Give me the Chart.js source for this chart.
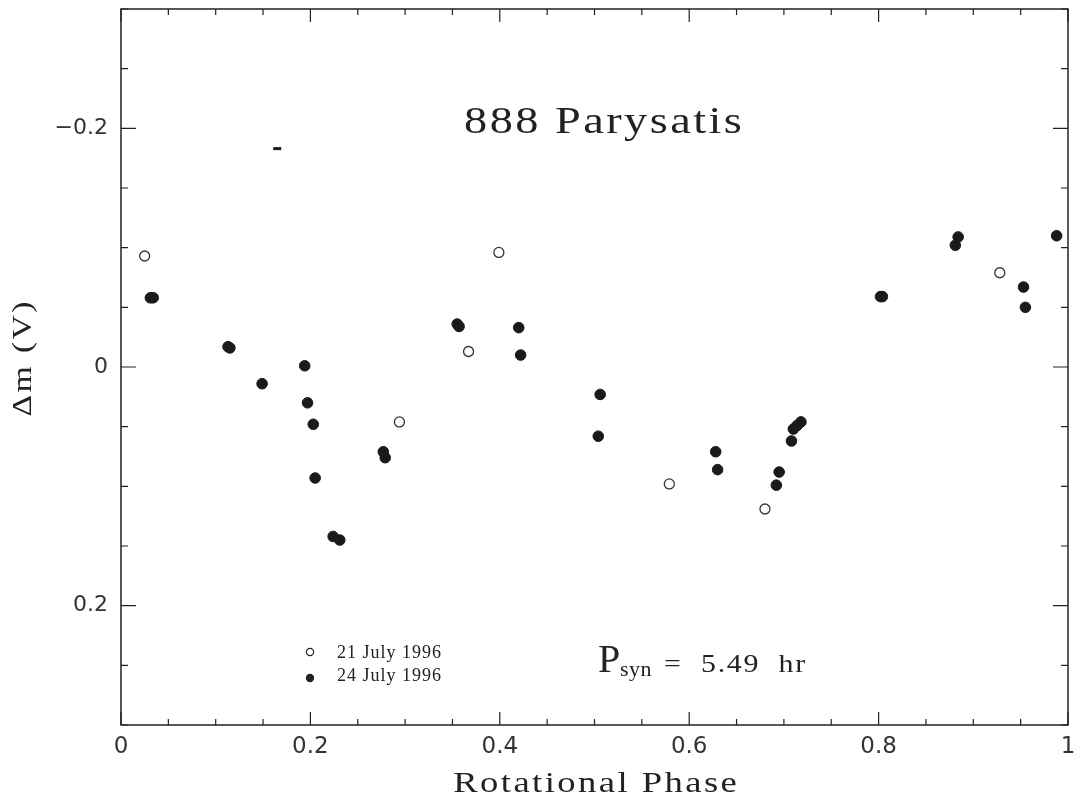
<!DOCTYPE html>
<html>
<head>
<meta charset="utf-8">
<title>888 Parysatis</title>
<script src="https://cdn.jsdelivr.net/npm/chart.js@4/dist/chart.umd.min.js"></script>
<style>
  html, body { margin: 0; padding: 0; background: #fff; }
  #lightcurve { display: block; }
</style>
</head>
<body>
<canvas id="lightcurve" width="1075" height="800"></canvas>
<script>
// values
const sessionLabels = ['21 July 1996', '24 July 1996'];

const phase21 = [0.025, 0.294, 0.367, 0.399, 0.579, 0.680, 0.928];
const dmag21  = [-0.093, 0.046, -0.013, -0.096, 0.098, 0.119, -0.079];

const phase24 = [0.031, 0.034, 0.113, 0.115, 0.149, 0.194, 0.197, 0.203, 0.205, 0.224,
                 0.231, 0.277, 0.279, 0.355, 0.357, 0.420, 0.422, 0.504, 0.506, 0.628,
                 0.630, 0.692, 0.695, 0.708, 0.710, 0.714, 0.718, 0.802, 0.804, 0.881,
                 0.884, 0.953, 0.955, 0.988];
const dmag24  = [-0.058, -0.058, -0.017, -0.016, 0.014, -0.001, 0.030, 0.048, 0.093, 0.142,
                 0.145, 0.071, 0.076, -0.036, -0.034, -0.033, -0.010, 0.058, 0.023, 0.071,
                 0.086, 0.099, 0.088, 0.062, 0.052, 0.049, 0.046, -0.059, -0.059, -0.102,
                 -0.109, -0.067, -0.050, -0.110];

// small stray mark printed on the original figure
const phaseStray = [0.165];
const dmagStray  = [-0.183];

const xTicks = [0, 0.2, 0.4, 0.6, 0.8, 1];
const yTicks = [-0.2, 0, 0.2];
const minorStep = 0.05;

const INK = '#222';
const SERIF = '"Liberation Serif", "DejaVu Serif", serif';

function toPoints(xs, ys) {
  return xs.map((x, i) => ({ x, y: ys[i] }));
}

// text with horizontal stretch (sx) and letter spacing, like the plotter font
function scaledText(ctx, text, x, y, font, sx, spacing, align) {
  ctx.save();
  ctx.font = font;
  ctx.letterSpacing = (spacing || 0) + 'px';
  ctx.textAlign = 'left';
  ctx.textBaseline = 'alphabetic';
  ctx.fillStyle = INK;
  const w = (ctx.measureText(text).width - (spacing || 0)) * sx;
  const left = align === 'center' ? x - w / 2 : x;
  ctx.translate(left, y);
  ctx.scale(sx, 1);
  ctx.fillText(text, 0, 0);
  ctx.restore();
}

const framePlugin = {
  id: 'frame',
  beforeDatasetsDraw(chart) {
    const { ctx, chartArea: a, scales } = chart;
    ctx.save();
    ctx.strokeStyle = INK;
    ctx.lineWidth = 1.5;
    ctx.strokeRect(a.left, a.top, a.right - a.left, a.bottom - a.top);
    ctx.lineWidth = 1.2;
    ctx.beginPath();
    // inward ticks, x
    for (let v = 0; v <= 1.0001; v += minorStep) {
      const major = xTicks.some(t => Math.abs(t - v) < 1e-6);
      const len = major ? 13 : 6;
      const px = scales.x.getPixelForValue(v);
      ctx.moveTo(px, a.bottom); ctx.lineTo(px, a.bottom - len);
      ctx.moveTo(px, a.top); ctx.lineTo(px, a.top + len);
    }
    // inward ticks, y
    for (let v = -0.3; v <= 0.3001; v += minorStep) {
      const major = yTicks.some(t => Math.abs(t - v) < 1e-6);
      const len = major ? 15 : 7;
      const py = scales.y.getPixelForValue(v);
      ctx.moveTo(a.left, py); ctx.lineTo(a.left + len, py);
      ctx.moveTo(a.right, py); ctx.lineTo(a.right - len, py);
    }
    ctx.stroke();
    ctx.restore();
  },
  afterDraw(chart) {
    const { ctx } = chart;
    // title inside the frame
    scaledText(ctx, '888 Parysatis', 603, 133, '38px ' + SERIF, 1.22, 2, 'center');
    // axis titles
    scaledText(ctx, 'Rotational Phase', 595, 792, '30px ' + SERIF, 1.22, 2, 'center');
    ctx.save();
    ctx.translate(31, 359);
    ctx.rotate(-Math.PI / 2);
    scaledText(ctx, '\u0394m (V)', 0, 0, '28px ' + SERIF, 1.2, 2, 'center');
    ctx.restore();

    // legend
    ctx.save();
    ctx.strokeStyle = INK;
    ctx.fillStyle = INK;
    ctx.lineWidth = 1.2;
    ctx.beginPath(); ctx.arc(310, 652, 3.6, 0, Math.PI * 2); ctx.stroke();
    ctx.beginPath(); ctx.arc(310, 678, 4.2, 0, Math.PI * 2); ctx.fill();
    ctx.restore();
    scaledText(ctx, sessionLabels[0], 337, 658, '18px ' + SERIF, 1, 1, 'left');
    scaledText(ctx, sessionLabels[1], 337, 681, '18px ' + SERIF, 1, 1, 'left');

    // period annotation
    scaledText(ctx, 'P', 598, 672, '40px ' + SERIF, 1, 0, 'left');
    scaledText(ctx, 'syn', 620, 676, '22px ' + SERIF, 1, 0.5, 'left');
    scaledText(ctx, '=  5.49  hr', 664, 672, '26px ' + SERIF, 1.15, 1.5, 'left');
  }
};

const chart = new Chart(document.getElementById('lightcurve'), {
  type: 'scatter',
  data: {
    datasets: [
      {
        label: sessionLabels[0],
        data: toPoints(phase21, dmag21),
        pointStyle: 'circle',
        pointRadius: 5,
        pointBorderWidth: 1.3,
        pointBorderColor: '#333',
        pointBackgroundColor: '#fff'
      },
      {
        label: sessionLabels[1],
        data: toPoints(phase24, dmag24),
        pointStyle: 'circle',
        pointRadius: 5.3,
        pointBorderWidth: 1,
        pointBorderColor: '#1a1a1a',
        pointBackgroundColor: '#1a1a1a'
      },
      {
        label: 'stray',
        data: toPoints(phaseStray, dmagStray),
        pointStyle: 'line',
        pointRadius: 4,
        pointBorderWidth: 3,
        pointBorderColor: '#1a1a1a'
      }
    ]
  },
  options: {
    responsive: false,
    animation: false,
    layout: { padding: { top: 9, right: 7, left: 0, bottom: 0 } },
    plugins: {
      legend: { display: false },
      tooltip: { enabled: false }
    },
    scales: {
      x: {
        type: 'linear',
        min: 0,
        max: 1,
        afterBuildTicks: s => { s.ticks = xTicks.map(v => ({ value: v })); },
        afterFit: s => {
          s.height = 75;
          s.paddingLeft = 0;
          s.paddingRight = 0;
        },
        grid: { display: false, drawTicks: false },
        border: { display: false },
        ticks: {
          autoSkip: false,
          maxRotation: 0,
          padding: 8,
          color: '#333',
          font: { family: 'DejaVu Sans', size: 23 },
          callback: v => String(v)
        }
      },
      y: {
        type: 'linear',
        reverse: true,
        min: -0.3,
        max: 0.3,
        afterBuildTicks: s => { s.ticks = yTicks.map(v => ({ value: v })); },
        afterFit: s => {
          s.width = 121;
          s.paddingTop = 0;
          s.paddingBottom = 0;
        },
        grid: { display: false, drawTicks: false },
        border: { display: false },
        ticks: {
          autoSkip: false,
          padding: 13,
          color: '#333',
          font: { family: 'DejaVu Sans', size: 22 },
          callback: v => (v < 0 ? '\u2212' : '') + String(Math.abs(v))
        }
      }
    }
  },
  plugins: [framePlugin]
});
</script>
</body>
</html>
